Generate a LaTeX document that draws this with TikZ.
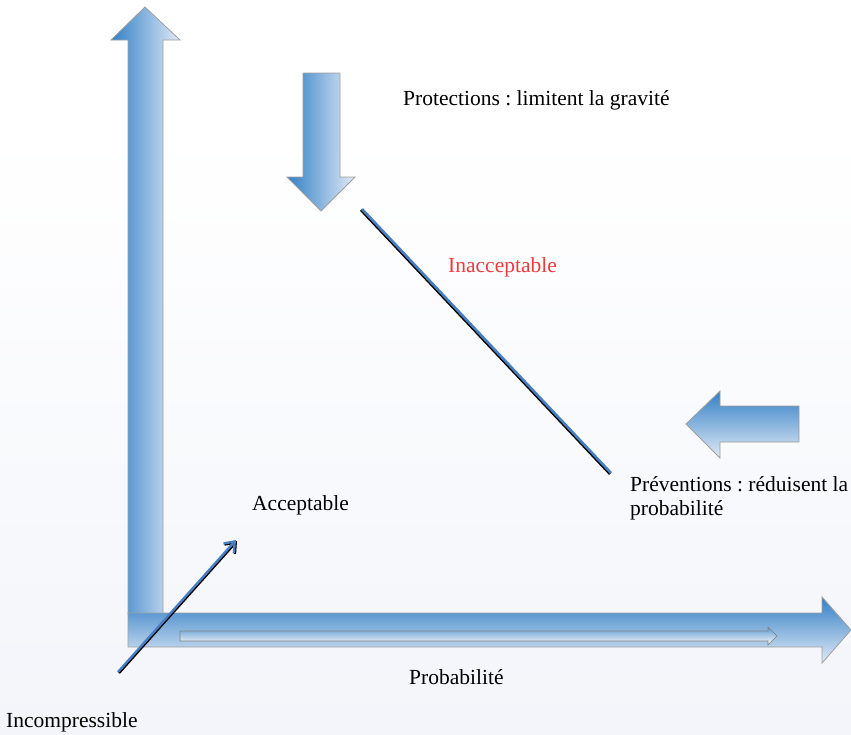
\documentclass[tikz,border=0pt]{standalone}
\usepackage{fontspec}
\setmainfont{Liberation Serif}
\usetikzlibrary{arrows.meta}
\frenchspacing

\definecolor{axisdark}{HTML}{3280C6}
\definecolor{axislight}{HTML}{E2EAF6}
\definecolor{linkblue}{HTML}{4A7EC2}
\definecolor{bgtint}{HTML}{F3F5FA}
\definecolor{warnred}{HTML}{EE3B3B}

\tikzset{
  txt/.style={font=\fontsize{21.5}{24}\selectfont, inner sep=0pt, anchor=base west},
  fatarrow/.style={draw=gray!75, line width=0.8pt},
}

\begin{document}
\begin{tikzpicture}[x=1pt, y=-1pt]
\useasboundingbox (0,0) rectangle (851,734);
% Background
\shade[top color=white, bottom color=bgtint] (0,130) rectangle (851,734);

% Gravity axis
\shadedraw[left color=axisdark, right color=axislight, fatarrow]
  (128,614) -- (128,40) -- (111,40) -- (145,7) -- (180,40) -- (163,40) -- (163,614) -- cycle;
% Probability axis
\shadedraw[top color=axisdark, bottom color=axislight, fatarrow]
  (128,613) -- (822,613) -- (822,597) -- (851,630) -- (822,663) -- (822,647) -- (128,647) -- cycle;
\shadedraw[top color=axisdark!80, bottom color=white, draw=gray, line width=0.6pt]
  (180,631) -- (768,631) -- (768,627) -- (777,636) -- (768,645) -- (768,641) -- (180,641) -- cycle;

% Protections
\shadedraw[left color=axisdark, right color=axislight, fatarrow]
  (303,73) -- (340,73) -- (340,177) -- (355,177) -- (321,211) -- (287,177) -- (303,177) -- cycle;
% Preventions
\shadedraw[top color=axisdark, bottom color=axislight, fatarrow]
  (799,406) -- (720,406) -- (720,391) -- (686,424) -- (720,458) -- (720,442) -- (799,442) -- cycle;

% Limit line
\coordinate (limtop) at (362,209);
\coordinate (limbot) at (611,473);
\draw[line width=2.6pt, black] ([shift={(-1,1)}]limtop) -- ([shift={(-1,1)}]limbot);
\draw[line width=2.6pt, linkblue] (limtop) -- (limbot);

% Labels
\node[txt] (prot) at (403,105) {Protections : limitent la gravité};
\node[txt, text=warnred] (inacc) at (448,272) {Inacceptable};
\node[txt, align=left] (prev) at (630,515) {Préventions : réduisent la\\probabilité};
\node[txt] (acc) at (252,510) {Acceptable};
\node[txt] (proba) at (409,684) {Probabilité};
\node[txt] (incomp) at (6,727) {Incompressible};

% From incompressible to acceptable
\coordinate (low) at (118,672);
\coordinate (high) at (236,540);
\draw[line width=2.4pt, black, -{Straight Barb[length=9pt, width=14pt]}]
  ([shift={(1,1)}]low) -- ([shift={(1,1)}]high);
\draw[line width=2.4pt, linkblue, -{Straight Barb[length=9pt, width=14pt]}] (low) -- (high);
\end{tikzpicture}
\end{document}
